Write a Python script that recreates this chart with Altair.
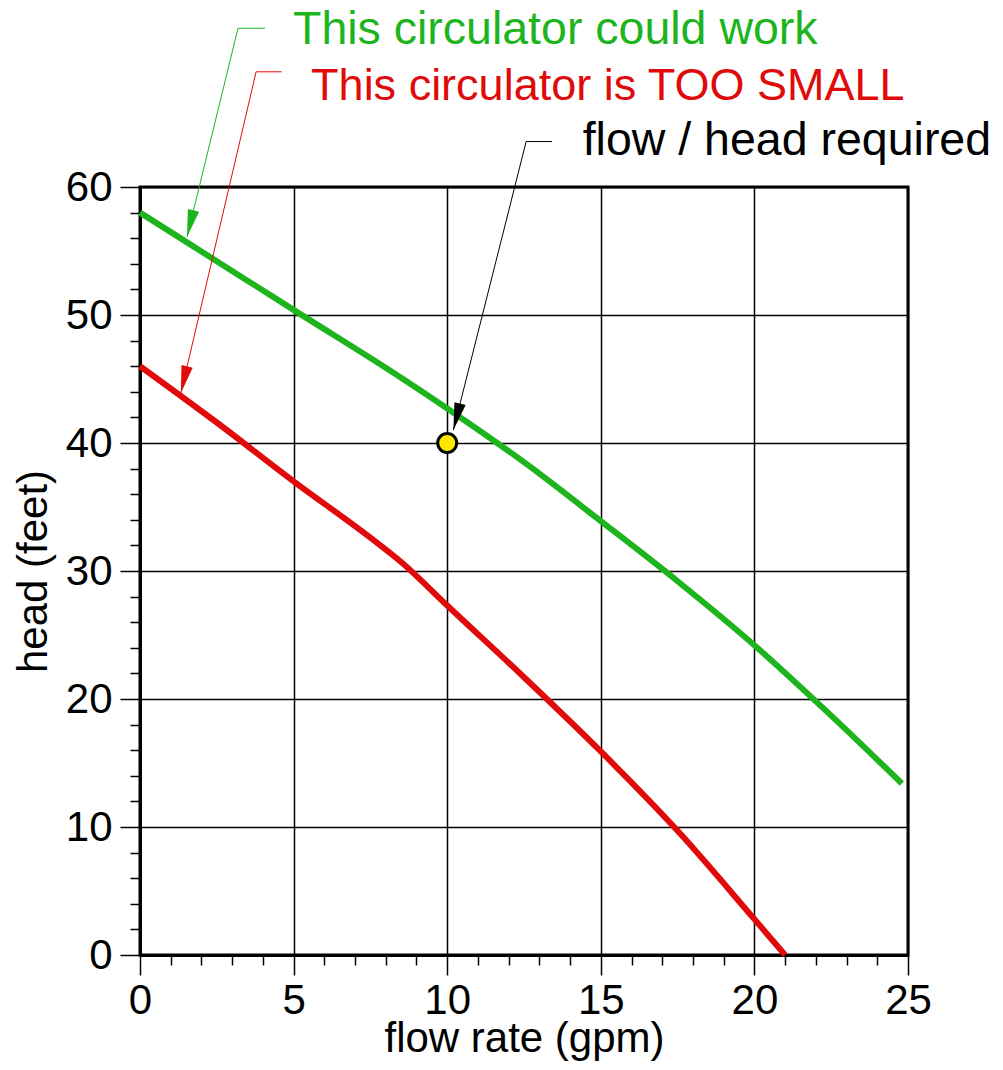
import math
import altair as alt
import pandas as pd

# ---- data ----
flow_green = [0, 2.5, 5, 8.5, 10, 12.5, 15, 17.5, 20, 22.5, 24.8]
head_green = [58, 54.2, 50.4, 45.1, 42.7, 38.5, 33.9, 29.2, 24.2, 18.7, 13.4]
flow_red = [0, 2.5, 5, 7.5, 8.5, 10, 12.5, 15, 17.5, 20, 21]
head_red = [46, 41.6, 37.0, 32.6, 30.7, 27.3, 21.7, 15.9, 9.7, 2.8, 0]
required_flow = [10]
required_head = [40]

x_ticks = list(range(0, 26))
y_ticks = list(range(0, 61, 2))

# annotations (data units)
ann_text = ["This circulator could work", "This circulator is TOO SMALL", "flow / head required"]
ann_font_size = [46.5, 45, 46.5]
ann_text_x = [4.98, 5.57, 14.41]
ann_text_y = [71.2, 66.8, 62.5]
ann_start_x = [4.07, 4.61, 13.41]
ann_elbow_x = [3.19, 3.78, 12.57]
ann_elbow_y = [72.4, 69.0, 63.55]
ann_tip_x = [1.53, 1.33, 10.2]
ann_tip_y = [56.1, 43.9, 41.0]

GREEN = "#1DB41D"
RED = "#E00A0A"
BLACK = "#000000"
ann_color = [GREEN, RED, BLACK]

W, H = 768, 768
XMAX, YMAX = 25, 60
sx, sy = W / XMAX, H / YMAX
FONT = "Liberation Sans"

curves = pd.DataFrame({
    "flow": flow_green + flow_red,
    "head": head_green + head_red,
    "color": [GREEN] * len(flow_green) + [RED] * len(flow_red),
    "series": ["could work"] * len(flow_green) + ["too small"] * len(flow_red),
})
point = pd.DataFrame({"flow": required_flow, "head": required_head})

segs = []
heads = []
for i in range(3):
    segs.append({"flow": ann_start_x[i], "head": ann_elbow_y[i], "x2": ann_elbow_x[i], "y2": ann_elbow_y[i], "color": ann_color[i]})
    segs.append({"flow": ann_elbow_x[i], "head": ann_elbow_y[i], "x2": ann_tip_x[i], "y2": ann_tip_y[i], "color": ann_color[i]})
    dx = (ann_tip_x[i] - ann_elbow_x[i]) * sx
    dy_down = -(ann_tip_y[i] - ann_elbow_y[i]) * sy
    ang = math.degrees(math.atan2(dx, -dy_down)) % 360
    heads.append({"flow": ann_tip_x[i], "head": ann_tip_y[i], "angle": ang, "color": ann_color[i]})
segs = pd.DataFrame(segs)
heads = pd.DataFrame(heads)
texts = pd.DataFrame({"flow": ann_text_x, "head": ann_text_y, "text": ann_text,
                      "color": ann_color, "fs": ann_font_size})

xscale = alt.Scale(domain=[0, XMAX], nice=False, zero=False)
yscale = alt.Scale(domain=[0, YMAX], nice=False, zero=False)

common_axis = dict(
    grid=True, gridColor="black", gridWidth=1.5,
    domainColor="black", domainWidth=3,
    tickColor="black", tickWidth=1.5,
    labelFont=FONT, labelFontSize=42, labelColor="black",
    titleFont=FONT, titleFontSize=42, titleFontWeight="normal", titleColor="black",
    labelOverlap=False, labelFlush=False,
)

x_axis = alt.Axis(
    values=x_ticks, title="flow rate (gpm)",
    labelExpr="datum.value % 5 === 0 ? datum.label : ''",
    tickSize={"condition": {"test": "datum.value % 5 === 0", "value": 20}, "value": 10},
    gridOpacity={"condition": {"test": "datum.value % 5 === 0", "value": 1}, "value": 0},
    labelPadding=5, titlePadding=-3,
    **common_axis,
)
y_axis = alt.Axis(
    values=y_ticks, title="head (feet)",
    labelExpr="datum.value % 10 === 0 ? datum.label : ''",
    tickSize={"condition": {"test": "datum.value % 10 === 0", "value": 20}, "value": 10},
    gridOpacity={"condition": {"test": "datum.value % 10 === 0", "value": 1}, "value": 0},
    labelPadding=8, titlePadding=10,
    **common_axis,
)

X = alt.X("flow:Q", scale=xscale, axis=x_axis, title="flow rate (gpm)")
Y = alt.Y("head:Q", scale=yscale, axis=y_axis, title="head (feet)")

lines = alt.Chart(curves).mark_line(strokeWidth=6, interpolate="monotone").encode(
    x=X, y=Y,
    color=alt.Color("color:N", scale=None),
    detail="series:N",
)

dot = alt.Chart(point).mark_point(
    shape="circle", filled=True, fill="#FFE800", stroke="black", strokeWidth=3, size=360, opacity=1
).encode(x=X, y=Y)

leaders = alt.Chart(segs).mark_rule(strokeWidth=1).encode(
    x=X, y=Y,
    x2="x2:Q", y2="y2:Q",
    color=alt.Color("color:N", scale=None),
)

arrowheads = alt.Chart(heads).mark_point(
    shape="M0,0L-0.42,2L0.42,2Z", filled=True, size=750, opacity=1, strokeWidth=0
).encode(
    x=X, y=Y,
    angle=alt.Angle("angle:Q", scale=None),
    color=alt.Color("color:N", scale=None),
)

labels = alt.Chart(texts).mark_text(
    align="left", baseline="alphabetic", font=FONT
).encode(
    x=X, y=Y,
    text="text:N",
    color=alt.Color("color:N", scale=None),
    size=alt.Size("fs:Q", scale=None),
)

chart = alt.layer(lines, leaders, arrowheads, dot, labels).properties(
    width=W, height=H,
    autosize=alt.AutoSizeParams(type="none"),
    padding={"left": 132, "top": 179, "right": 87, "bottom": 107},
    background="white",
).configure_view(stroke="black", strokeWidth=3)

chart.save("out.html", embed_options={"renderer": "svg", "actions": False})
